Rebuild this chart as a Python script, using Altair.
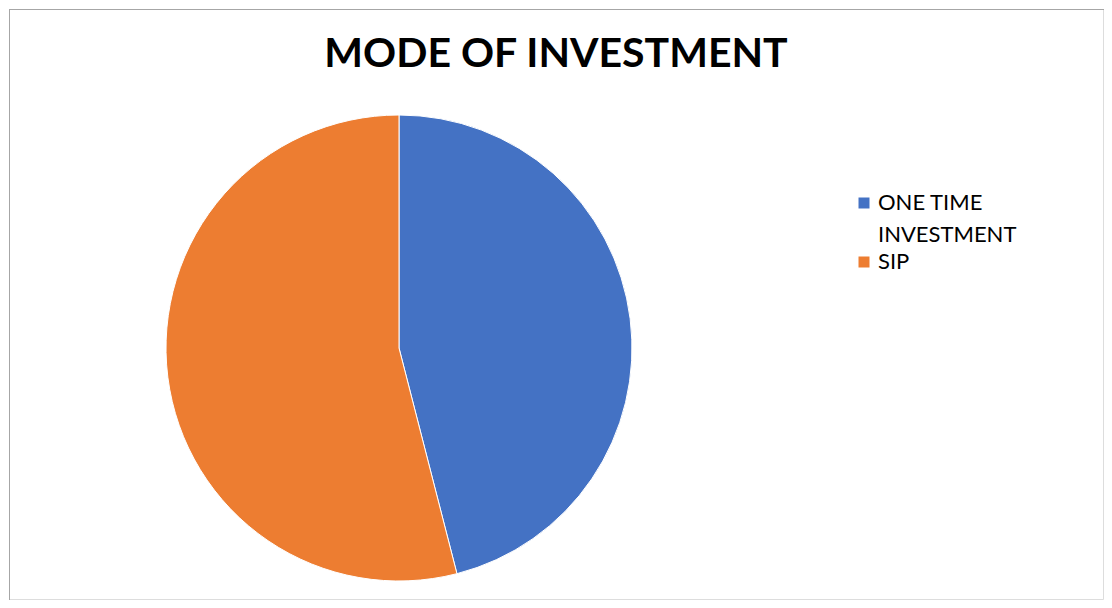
import altair as alt
import pandas as pd

categories = ["ONE TIME INVESTMENT", "SIP"]
shares = [46, 54]
colors = ["#4472C4", "#ED7D31"]
title_text = "MODE OF INVESTMENT"

df = pd.DataFrame({"mode": categories, "share": shares, "order": list(range(len(categories)))})

W, H = 1096, 592

label_expr = (
    "datum.label == 'ONE TIME INVESTMENT' ? ['ONE TIME', 'INVESTMENT'] : datum.label"
)

pie = alt.Chart(df).mark_arc(outerRadius=233, stroke="white", strokeWidth=1).encode(
    theta=alt.Theta("share:Q", stack=True),
    order=alt.Order("order:Q"),
    color=alt.Color(
        "mode:N",
        scale=alt.Scale(domain=categories, range=colors),
        sort=categories,
        legend=alt.Legend(
            title=None,
            orient="none",
            legendX=844,
            legendY=183,
            padding=0,
            symbolType="square",
            symbolSize=121,
            symbolStrokeWidth=0,
            symbolOpacity=1,
            labelFont="Lato",
            labelFontSize=22,
            labelColor="#000000",
            labelOffset=3,
            labelLimit=400,
            labelExpr=label_expr,
            rowPadding=5,
        ),
    ),
    x=alt.value(390),
    y=alt.value(339),
)

left_edge = alt.Chart(df).mark_rule(color="#a6a6a6", strokeWidth=1).encode(
    x=alt.value(0.5), y=alt.value(0), y2=alt.value(H)
)
top_edge = alt.Chart(df).mark_rule(color="#a6a6a6", strokeWidth=1).encode(
    x=alt.value(0), x2=alt.value(W), y=alt.value(0.5)
)

chart = (
    alt.layer(left_edge, top_edge, pie)
    .properties(
        width=W,
        height=H,
        autosize=alt.AutoSizeParams(type="fit", contains="padding"),
        padding=0,
        title=alt.TitleParams(
            title_text,
            font="Lato",
            fontSize=41,
            fontWeight="bold",
            color="#000000",
            anchor="middle",
            offset=-67,
        ),
    )
    .configure_view(stroke="transparent", strokeWidth=0, strokeOpacity=0)
    .configure(style={"guide-label": {"lineHeight": 32}})
)

chart.save("out.html", embed_options={"renderer": "svg", "actions": False})
